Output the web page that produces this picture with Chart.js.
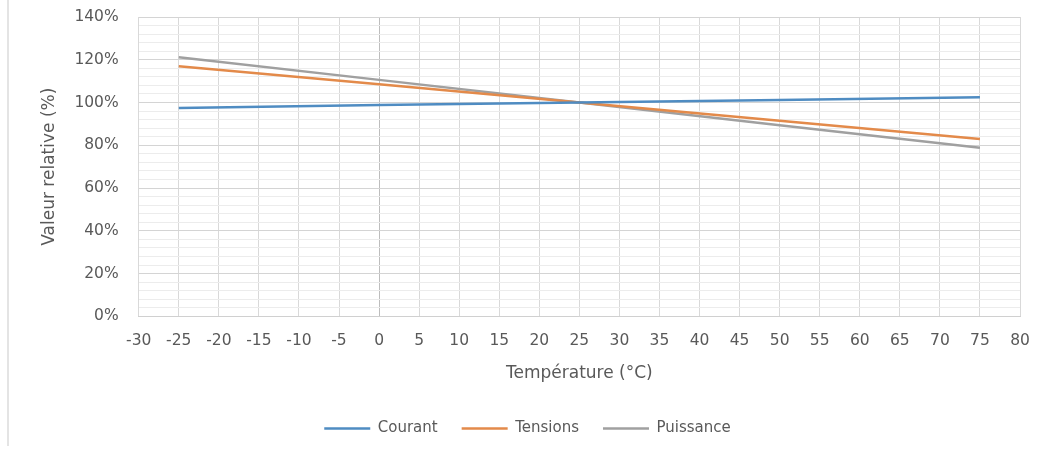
<!DOCTYPE html>
<html>
<head>
<meta charset="utf-8">
<script src="https://cdn.jsdelivr.net/npm/chart.js@4/dist/chart.umd.min.js"></script>
<style>
  html, body { margin: 0; padding: 0; background: #fff; }
  #wrap { position: relative; width: 1047px; height: 454px; }
  #edge { position: absolute; left: 7px; top: 0; width: 2px; height: 446px; background: #e4e4e4; }
  canvas { position: absolute; left: 0; top: 0; }
</style>
</head>
<body>
<div id="wrap">
  <div id="edge"></div>
  <canvas id="tempChart" width="1047" height="454"></canvas>
</div>
<script>
  // Température (°C) and relative values (%)
  const temperatures = [-25, 0, 25, 50, 75];
  const courant = [97.5, 98.8, 100, 101.2, 102.5];
  const tensions = [117, 108.5, 100, 91.5, 83];
  const puissance = [121.2, 110.6, 100, 89.4, 78.9];
  const yTickLabels = ['0%', '20%', '40%', '60%', '80%', '100%', '120%', '140%'];

  const grey = '#595959';
  const fontFam = '"DejaVu Sans", sans-serif';

  function toPoints(vals) {
    return temperatures.map((t, i) => ({ x: t, y: vals[i] }));
  }

  const ctx = document.getElementById('tempChart').getContext('2d');
  new Chart(ctx, {
    type: 'line',
    data: {
      datasets: [
        { label: 'Courant', data: toPoints(courant), borderColor: '#4f8cc2', backgroundColor: '#4f8cc2', borderWidth: 2.5, pointRadius: 0 },
        { label: 'Tensions', data: toPoints(tensions), borderColor: '#e38a4a', backgroundColor: '#e38a4a', borderWidth: 2.5, pointRadius: 0 },
        { label: 'Puissance', data: toPoints(puissance), borderColor: '#a0a0a0', backgroundColor: '#a0a0a0', borderWidth: 2.5, pointRadius: 0 }
      ]
    },
    options: {
      responsive: false,
      animation: false,
      layout: { padding: { left: 35, right: 27, top: 17, bottom: 8 } },
      plugins: {
        tooltip: { enabled: false },
        legend: {
          position: 'bottom',
          labels: {
            usePointStyle: true,
            pointStyle: 'line',
            pointStyleWidth: 46,
            color: grey,
            font: { family: fontFam, size: 15 },
            padding: 24
          }
        }
      },
      scales: {
        x: {
          type: 'linear',
          min: -30,
          max: 80,
          ticks: { stepSize: 5, color: grey, font: { family: fontFam, size: 15.5 }, padding: 15 },
          grid: {
            color: c => c.tick && c.tick.value === 0 ? '#bdbdbd' : '#d9d9d9',
            drawTicks: false
          },
          border: { color: '#d0d0d0' },
          title: { display: true, text: 'Température (°C)', color: grey, font: { family: fontFam, size: 17, lineHeight: 1 }, padding: { top: 0, bottom: 15 } }
        },
        y: {
          min: 0,
          max: 140,
          ticks: {
            stepSize: 4,
            autoSkip: false,
            color: grey,
            font: { family: fontFam, size: 15.5 },
            padding: 6,
            callback: v => (v % 20 === 0 ? yTickLabels[v / 20] : '')
          },
          grid: {
            color: c => c.tick && c.tick.value % 20 === 0 ? '#d4d4d4' : '#ececec',
            drawTicks: true,
            tickLength: 14,
            tickColor: 'rgba(0,0,0,0)'
          },
          border: { display: false },
          title: { display: true, text: 'Valeur relative (%)', color: grey, font: { family: fontFam, size: 17 }, padding: { top: 4, bottom: 9 } }
        }
      }
    }
  });
</script>
</body>
</html>
